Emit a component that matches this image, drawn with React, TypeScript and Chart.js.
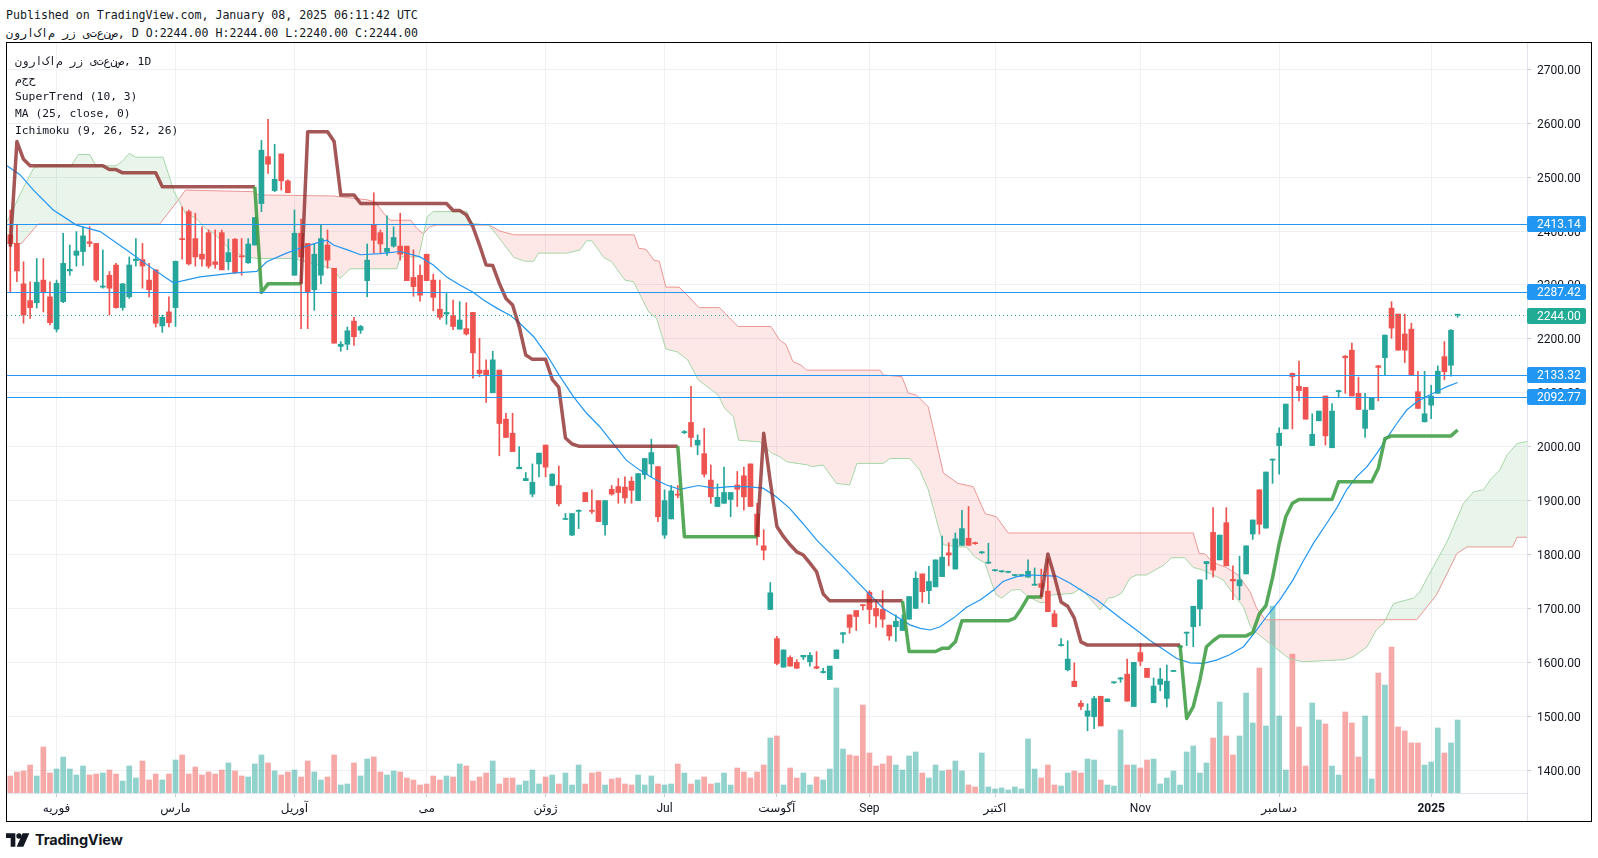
import React, { useEffect, useRef } from "react";
import { Chart, registerables } from "chart.js";
Chart.register(...registerables);

// ---------- DATA ----------
const opens = [
  2393,2377,2302,2271,2267,2309,2278,2218,2269,2326,
  2355,2362,2380,2377,2296,2318,2337,2258,2278,2345,
  2347,2309,2328,2224,2250,2258,2386,2436,2386,2357,
  2397,2343,2397,2343,2385,2354,2341,2374,2451,2538,
  2475,2543,2493,2318,2396,2377,2291,2318,2374,2331,
  2186,2190,2233,2216,2308,2411,2397,2361,2372,2372,
  2372,2314,2318,2357,2309,2255,2246,2243,2218,2219,
  2249,2142,2142,2100,2142,2051,2025,1959,1937,1912,
  1968,2003,1928,1928,1865,1836,1880,1915,1882,1900,
  1855,1921,1926,1925,1936,1900,1948,1968,1963,1836,
  1866,1912,2026,2045,2003,1987,1938,1889,1895,1902,
  1929,1946,1968,1875,1816,1698,1644,1591,1609,1600,
  1610,1601,1592,1581,1568,1607,1652,1688,1696,1707,
  1730,1700,1698,1669,1666,1659,1680,1700,1764,1733,
  1740,1759,1803,1773,1817,1830,1822,1803,1784,1770,
  1768,1767,1761,1761,1758,1743,1746,1732,1690,1631,
  1586,1565,1524,1500,1499,1537,1527,1562,1569,1578,
  1518,1618,1589,1525,1559,1533,1583,1628,1654,1666,
  1699,1783,1841,1790,1859,1754,1742,1764,1838,1920,
  1849,1975,2002,2033,2136,2112,2110,2002,2048,2094,
  1998,2102,2168,2179,2099,2034,2069,2150,2165,2257,
  2246,2209,2218,2102,2046,2077,2099,2167,2151,2244,
];
const highs = [
  2439,2411,2343,2306,2349,2349,2306,2309,2396,2374,
  2399,2408,2408,2377,2365,2325,2340,2303,2352,2386,
  2377,2340,2328,2244,2278,2344,2445,2439,2433,2408,
  2402,2402,2402,2385,2386,2386,2386,2425,2568,2607,
  2561,2543,2495,2439,2422,2377,2377,2412,2402,2331,
  2195,2222,2240,2225,2376,2471,2402,2428,2408,2433,
  2372,2365,2337,2357,2320,2309,2284,2272,2269,2267,
  2249,2201,2161,2177,2142,2062,2062,2000,1952,1968,
  1988,2003,1950,1964,1876,1876,1883,1915,1920,1900,
  1900,1928,1941,1944,1944,1950,1978,2014,1963,1920,
  1928,1928,2030,2112,2022,2034,1966,1931,1962,1915,
  1954,1962,1968,1895,1846,1748,1648,1623,1612,1605,
  1613,1618,1620,1589,1593,1623,1655,1688,1696,1707,
  1733,1716,1733,1669,1688,1688,1722,1768,1764,1778,
  1790,1834,1822,1840,1882,1889,1823,1806,1821,1772,
  1770,1769,1763,1763,1790,1775,1773,1793,1696,1644,
  1640,1599,1529,1523,1537,1537,1532,1564,1572,1606,
  1600,1635,1589,1571,1589,1595,1585,1632,1656,1704,
  1753,1787,1887,1836,1887,1779,1797,1816,1864,1920,
  1953,1977,2035,2079,2137,2159,2110,2061,2066,2094,
  2080,2105,2169,2192,2129,2099,2091,2151,2207,2269,
  2246,2246,2229,2140,2140,2114,2150,2195,2217,2244,
];
const lows = [
  2287,2306,2229,2238,2257,2250,2226,2213,2267,2318,
  2335,2336,2371,2306,2294,2244,2257,2253,2275,2335,
  2294,2278,2222,2212,2222,2223,2348,2337,2335,2335,
  2331,2331,2328,2328,2321,2318,2340,2374,2436,2507,
  2473,2476,2471,2318,2219,2219,2253,2302,2331,2192,
  2177,2180,2188,2210,2278,2359,2359,2355,2370,2346,
  2308,2279,2270,2308,2252,2236,2227,2217,2218,2207,
  2127,2130,2082,2100,1983,2017,1991,1959,1937,1907,
  1944,1944,1927,1890,1865,1835,1848,1898,1876,1861,
  1836,1910,1895,1895,1895,1900,1940,1944,1861,1830,
  1866,1905,2024,2000,1985,1944,1895,1889,1895,1870,
  1889,1882,1889,1818,1790,1698,1595,1591,1593,1589,
  1605,1593,1588,1580,1568,1607,1636,1654,1659,1697,
  1672,1665,1665,1641,1639,1659,1680,1700,1711,1709,
  1740,1759,1779,1773,1817,1817,1819,1802,1783,1769,
  1767,1766,1760,1760,1758,1743,1718,1694,1666,1630,
  1584,1555,1512,1473,1477,1482,1527,1561,1563,1528,
  1518,1594,1572,1525,1547,1517,1583,1627,1631,1629,
  1668,1754,1758,1790,1779,1716,1716,1764,1828,1838,
  1849,1932,1949,2033,2033,2085,2051,2002,2048,2003,
  1998,2091,2099,2094,2069,2017,2069,2085,2133,2201,
  2179,2156,2133,2071,2046,2052,2099,2124,2131,2240,
];
const closes = [
  2377,2326,2244,2258,2305,2287,2230,2303,2340,2329,
  2363,2391,2377,2309,2298,2294,2258,2302,2337,2348,
  2335,2291,2229,2240,2230,2344,2384,2339,2352,2348,
  2335,2338,2328,2360,2323,2352,2376,2425,2550,2524,
  2496,2493,2471,2396,2352,2287,2357,2386,2346,2192,
  2190,2215,2204,2223,2346,2383,2376,2368,2388,2357,
  2308,2297,2281,2308,2277,2240,2249,2223,2235,2209,
  2174,2136,2133,2161,2043,2017,1991,1962,1941,1934,
  1988,1962,1949,1894,1866,1876,1882,1898,1880,1861,
  1900,1912,1915,1905,1919,1950,1978,1989,1870,1900,
  1918,1910,2028,2017,2012,1949,1907,1906,1915,1915,
  1921,1907,1889,1833,1808,1729,1598,1623,1593,1589,
  1613,1613,1589,1583,1593,1623,1655,1665,1685,1705,
  1698,1686,1680,1649,1676,1679,1722,1756,1731,1750,
  1790,1795,1799,1829,1848,1817,1820,1805,1786,1771,
  1769,1768,1762,1762,1769,1745,1739,1694,1666,1633,
  1606,1555,1518,1510,1533,1482,1532,1563,1571,1528,
  1600,1602,1572,1556,1569,1565,1585,1630,1656,1704,
  1753,1787,1771,1836,1779,1751,1753,1816,1864,1856,
  1953,1977,2025,2079,2130,2104,2051,2023,2066,2020,
  2066,2104,2165,2094,2069,2068,2091,2147,2207,2220,
  2179,2179,2133,2071,2061,2094,2140,2139,2216,2244,
];
const volumes = [
  17,21,22,28,17,46,20,24,36,24,
  18,27,18,19,20,23,19,12,27,15,
  32,13,19,13,19,33,38,19,26,18,
  21,19,23,30,22,17,16,29,38,30,
  22,18,21,23,16,32,21,13,16,38,
  8,9,30,17,34,36,21,18,22,21,
  15,13,8,9,17,13,17,16,29,27,
  12,16,20,32,9,15,15,8,12,23,
  9,16,18,9,20,8,28,9,20,21,
  8,14,15,9,8,18,8,17,9,8,
  9,29,20,9,13,16,9,10,20,8,
  25,21,15,21,28,55,57,8,25,15,
  20,8,16,13,24,105,44,38,37,88,
  40,27,29,37,28,23,37,41,20,15,
  28,22,23,32,22,8,6,40,6,4,
  5,3,6,4,54,24,15,28,8,7,
  20,22,20,34,33,13,8,7,63,28,
  28,25,33,34,9,15,22,8,41,47,
  20,30,55,91,57,38,57,100,70,125,
  67,187,77,23,139,66,27,90,73,69,
  27,18,81,70,36,77,14,120,108,146,
  66,62,50,50,28,31,65,40,50,73,
];
const superTrend = [
  2371,2566,2533,2521,2521,2521,2521,2521,2521,2521,
  2521,2521,2521,2521,2521,2514,2514,2508,2508,2508,
  2508,2508,2508,2482,2482,2482,2482,2482,2482,2482,
  2482,2482,2482,2482,2482,2482,2482,2482,2286,2302,
  2302,2302,2302,2302,2302,2584,2584,2584,2584,2566,
  2467,2467,2467,2451,2451,2451,2451,2451,2451,2451,
  2451,2451,2451,2451,2451,2451,2451,2438,2438,2430,
  2408,2374,2337,2336,2303,2275,2263,2223,2170,2162,
  2162,2162,2125,2110,2016,2005,2001,2001,2001,2001,
  2001,2001,2001,2001,2001,2001,2001,2001,2001,2001,
  2001,2001,1833,1833,1833,1833,1833,1833,1833,1833,
  1833,1833,1833,1833,2025,1935,1852,1833,1818,1805,
  1799,1784,1768,1727,1714,1714,1714,1714,1714,1714,
  1714,1714,1714,1714,1714,1714,1620,1620,1620,1620,
  1620,1626,1626,1638,1677,1677,1677,1677,1677,1677,
  1677,1677,1682,1700,1721,1721,1721,1801,1759,1712,
  1704,1682,1638,1632,1632,1632,1632,1632,1632,1632,
  1632,1632,1632,1632,1632,1632,1632,1632,1496,1518,
  1567,1629,1640,1649,1649,1649,1649,1649,1655,1690,
  1705,1757,1820,1870,1895,1902,1902,1902,1902,1902,
  1902,1935,1935,1935,1935,1935,1935,1960,2015,2020,
  2020,2020,2020,2020,2020,2020,2020,2020,2020,2031,
];
// [first bar index, direction] : 1 = up (green), -1 = down (red)
const trendFlips = [[0, 1], [1, -1], [38, 1], [45, -1], [102, 1], [114, -1], [136, 1], [157, -1], [178, 1]];

const maPoints = [
  [-0.5,2521],[1.5,2504],[3.5,2476],[6.5,2439],[10,2411],[13.6,2399],[17.6,2365],[21.1,2334],[23.7,2312],[24.7,2304],
  [28.7,2315],[33.7,2322],[37.3,2325],[38.8,2343],[41.8,2359],[43.8,2368],[46.9,2380],[47.9,2383],[48.9,2374],[51,2365],
  [53,2356],[56,2358],[59,2362],[62,2352],[64,2337],[66,2315],[68,2300],[70.1,2286],[71.6,2272],[73.6,2257],
  [75.6,2244],[77.1,2229],[79.2,2204],[81.2,2170],[83.2,2130],[85.2,2093],[87.2,2062],[89.2,2037],[91.2,2006],[93.2,1975],
  [95.2,1957],[97.3,1941],[99.3,1929],[101.3,1921],[104.1,1928],[106.4,1923],[108.9,1926],[111.4,1926],[113.9,1923],[115.9,1907],
  [117.9,1886],[119.9,1858],[122,1827],[124,1802],[126,1777],[128.1,1750],[130.1,1725],[132.1,1700],[134.1,1685],[136.2,1669],
  [137.7,1663],[139.2,1660],[140.7,1666],[142.7,1682],[144.7,1702],[146.8,1716],[148.8,1734],[150.2,1750],[152.3,1759],[154.3,1762],
  [156.3,1761],[158.3,1760],[160.3,1747],[162.4,1731],[164.4,1716],[166.4,1697],[168.4,1678],[170.4,1660],[172.4,1641],[174.5,1624],
  [176.5,1607],[178.5,1599],[180.5,1598],[182.5,1604],[184.5,1614],[186.6,1629],[188.3,1655],[190.1,1685],[192.1,1716],[194.1,1753],
  [195.6,1787],[197.2,1821],[199.2,1858],[200.7,1886],[202.2,1920],[203.7,1944],[205.3,1963],[206.8,1988],[208.3,2016],[209.8,2043],
  [211.3,2068],[212.8,2083],[214.3,2093],[215.8,2102],[217.3,2111],[219,2119],
];
const spanAPoints = [
  [-0.5,2417],[1.8,2476],[3.5,2516],[4.2,2521],[9.2,2521],[10.3,2542],[12,2542],[13,2521],[16,2521],[17,2530],
  [18,2544],[19,2537],[23.1,2537],[24.8,2473],[26.5,2433],[28.1,2424],[29.5,2405],[30.8,2396],[33.5,2362],[35.8,2352],
  [37.3,2349],[42.8,2349],[48.9,2330],[49.9,2312],[51.4,2330],[58.5,2330],[59,2352],[61.8,2352],[63.1,2427],[64,2436],
  [69.1,2436],[69.8,2414],[72.4,2411],[73.6,2393],[76.2,2351],[77.9,2344],[79.2,2344],[79.9,2359],[84.2,2359],[86.2,2365],
  [87.2,2382],[88,2382],[89.8,2351],[91,2343],[93,2309],[94.3,2306],[96.6,2250],[97.8,2238],[99.2,2181],[100.9,2176],
  [102.5,2161],[104.1,2124],[107.1,2096],[108.1,2071],[109.4,2056],[110.2,2012],[113.4,2009],[115.2,1988],[116.5,1981],[117.5,1972],
  [120.7,1966],[121.3,1963],[123,1966],[125,1932],[127,1929],[128.1,1969],[132.1,1969],[133.1,1978],[136.1,1978],[137.6,1957],
  [138.9,1920],[140.7,1839],[141.2,1818],[143.7,1814],[144.7,1814],[145.9,1796],[147.5,1784],[148.5,1747],[149.2,1725],[150,1719],
  [151.5,1734],[152.8,1735],[154,1722],[155.8,1711],[156.6,1711],[157.6,1725],[160.8,1728],[161.9,1737],[162.9,1725],[164.9,1697],
  [166.1,1719],[167.1,1721],[168.2,1729],[169.4,1756],[170.4,1762],[171.9,1762],[173.2,1771],[174.5,1780],[175.7,1794],[177.7,1794],
  [179,1776],[180.5,1771],[182.5,1759],[183.5,1753],[185,1728],[186.6,1703],[187.6,1668],[188.2,1658],[190.8,1633],[193.5,1607],
  [195.6,1601],[201.9,1605],[203.2,1610],[205.3,1629],[206.7,1660],[207.8,1672],[209.3,1709],[212.3,1719],[213.3,1731],[214.5,1759],
  [217.3,1821],[219.9,1895],[221.4,1916],[222.9,1920],[224.1,1941],[225.4,1957],[226.5,1985],[228,2006],[229.6,2010],
];
const spanBPoints = [
  [-0.5,2377],[1.7,2377],[4.2,2413],[22.6,2413],[25.2,2454],[26.5,2476],[36.8,2473],[37.5,2467],[48.9,2465],[54,2458],
  [55.2,2454],[56.5,2433],[57.5,2420],[60.6,2420],[61.5,2405],[62.5,2395],[63.5,2408],[64.5,2411],[72.5,2411],[74.1,2400],
  [76.2,2393],[94.4,2393],[95.1,2368],[96.2,2366],[97.4,2346],[98.2,2344],[99.2,2296],[101.2,2296],[102.2,2284],[104.2,2258],
  [107.3,2258],[110.1,2223],[115.1,2223],[116.4,2198],[117.4,2189],[118.4,2158],[119.7,2151],[120.5,2142],[131.6,2142],[132.1,2133],
  [134.9,2130],[135.9,2099],[137.1,2096],[138.9,2074],[141.2,1951],[143.4,1932],[145.7,1926],[147.5,1876],[149.2,1870],[151,1840],
  [179,1840],[179.9,1802],[180.8,1801],[182,1785],[184,1776],[185.8,1762],[187.6,1731],[188.6,1700],[189.9,1679],[212.8,1679],
  [215.8,1725],[218.9,1802],[220.4,1814],[227.3,1814],[228,1832],[229.6,1832],
];
const monthTicks = [7, 25, 43, 63, 81, 99, 116, 130, 149, 171, 192, 215];
const monthLabels = ["فوریه", "مارس", "آوریل", "می", "ژوئن", "Jul", "آگوست", "Sep", "اکتبر", "Nov", "دسامبر", "2025"];
const levelLines = [2413.14, 2287.42, 2133.32, 2092.77];
const lastPrice = 2244.0;
const priceTicks = [1400, 1500, 1600, 1700, 1800, 1900, 2000, 2100, 2200, 2300, 2400, 2500, 2600, 2700];
const symbolName = "صنعتی زر ماکارون";
const volumeTitle = "حجم";

// ---------- STYLE ----------
const UP = "#26a69a";
const DN = "#ef5350";
const UP_VOL = "rgba(38,166,154,0.5)";
const DN_VOL = "rgba(239,83,80,0.5)";
const ST_UP = "rgba(67,160,71,0.9)";
const ST_DN = "rgba(140,40,40,0.78)";
const GRID = "#eef0f4";
const AXIS_FONT = "Roboto, 'DejaVu Sans', sans-serif";
const TEXT = "#131722";

// the monospace legend of the source shows Arabic letters unjoined
const unjoined = (s: string) => s.split("").join("\u200C");

function trendAt(i: number) {
  let d = 1;
  for (const [s, v] of trendFlips) if (i >= s) d = v;
  return d;
}

const overlayPlugin = {
  id: "overlayPlugin",
  afterDatasetsDraw(chart: any) {
    const { ctx, chartArea: a, scales } = chart;
    const y = scales.y;
    ctx.save();
    ctx.beginPath();
    ctx.rect(a.left, a.top, a.right - a.left, a.bottom - a.top);
    ctx.clip();
    ctx.lineWidth = 1;
    ctx.strokeStyle = "#2196f3";
    levelLines.forEach((v) => {
      const py = Math.round(y.getPixelForValue(v)) + 0.5;
      ctx.beginPath();
      ctx.moveTo(a.left, py);
      ctx.lineTo(a.right, py);
      ctx.stroke();
    });
    const lp = Math.round(y.getPixelForValue(lastPrice)) + 0.5;
    ctx.setLineDash([1, 3]);
    ctx.strokeStyle = "#22ab94";
    ctx.beginPath();
    ctx.moveTo(a.left, lp);
    ctx.lineTo(a.right, lp);
    ctx.stroke();
    ctx.restore();
  },
  afterDraw(chart: any) {
    const { ctx, chartArea: a, scales, height } = chart;
    const y = scales.y;
    ctx.save();
    ctx.strokeStyle = "#e0e3eb";
    ctx.lineWidth = 1;
    ctx.beginPath();
    ctx.moveTo(a.right + 0.5, a.bottom);
    ctx.lineTo(a.right + 0.5, height);
    ctx.stroke();
    const box = (v: number, color: string) => {
      const py = y.getPixelForValue(v);
      const top = Math.round(py - 7.5);
      ctx.fillStyle = color;
      ctx.beginPath();
      if ((ctx as any).roundRect) (ctx as any).roundRect(a.right, top, 59, 16, 2);
      else ctx.rect(a.right, top, 59, 16);
      ctx.fill();
      ctx.fillStyle = "#ffffff";
      ctx.font = `12px ${AXIS_FONT}`;
      ctx.textBaseline = "middle";
      ctx.textAlign = "left";
      ctx.fillText(v.toFixed(2), a.right + 10, top + 8.5);
    };
    levelLines.forEach((v) => box(v, "#2196f3"));
    box(lastPrice, "#22ab94");
    ctx.restore();
  },
};

export default function App() {
  const ref = useRef<HTMLCanvasElement>(null);

  useEffect(() => {
    const idx = opens.map((_, i) => i);
    const isUp = (i: number) => closes[i] >= opens[i];
    const chart = new Chart(ref.current as HTMLCanvasElement, {
      type: "bar",
      data: {
        datasets: [
          {
            type: "line",
            label: "SuperTrend",
            data: superTrend.map((v, i) => ({ x: i, y: v })),
            borderColor: ST_DN,
            borderWidth: 3.5,
            borderJoinStyle: "round",
            pointRadius: 0,
            segment: { borderColor: (c: any) => (trendAt(c.p1DataIndex) > 0 ? ST_UP : ST_DN) },
            order: 0,
          } as any,
          {
            type: "line",
            label: "MA",
            data: maPoints.map(([x, v]) => ({ x, y: v })),
            borderColor: "#2196f3",
            borderWidth: 1.2,
            pointRadius: 0,
            order: 1,
          } as any,
          {
            type: "bar",
            label: "body",
            data: idx.map((i) => ({ x: i, y: [opens[i], closes[i]] })),
            backgroundColor: idx.map((i) => (isUp(i) ? UP : DN)),
            barThickness: 5,
            minBarLength: 1,
            grouped: false,
            borderWidth: 0,
            order: 2,
          } as any,
          {
            type: "bar",
            label: "wick",
            data: idx.map((i) => ({ x: i, y: [lows[i], highs[i]] })),
            backgroundColor: idx.map((i) => (isUp(i) ? UP : DN)),
            barThickness: 1,
            minBarLength: 1,
            grouped: false,
            borderWidth: 0,
            order: 3,
          } as any,
          {
            type: "line",
            label: "Leading Span A",
            data: spanAPoints.map(([x, v]) => ({ x, y: v })),
            borderColor: "#a5d6a7",
            borderWidth: 1,
            pointRadius: 0,
            fill: { target: "+1", above: "rgba(76,175,80,0.12)", below: "rgba(244,67,54,0.12)" },
            order: 4,
          } as any,
          {
            type: "line",
            label: "Leading Span B",
            data: spanBPoints.map(([x, v]) => ({ x, y: v })),
            borderColor: "#ef9a9a",
            borderWidth: 1,
            pointRadius: 0,
            fill: false,
            order: 5,
          } as any,
          {
            type: "bar",
            label: "Volume",
            yAxisID: "yv",
            data: idx.map((i) => ({ x: i, y: volumes[i] })),
            backgroundColor: idx.map((i) => (isUp(i) ? UP_VOL : DN_VOL)),
            barThickness: 5,
            grouped: false,
            borderWidth: 0,
            order: 6,
          } as any,
        ],
      },
      options: {
        responsive: false,
        maintainAspectRatio: false,
        animation: false,
        devicePixelRatio: 1,
        layout: { padding: 0 },
        plugins: { legend: { display: false }, tooltip: { enabled: false } },
        scales: {
          x: {
            type: "linear",
            min: -0.5,
            max: 229.5,
            offset: false,
            grid: { offset: false, color: GRID, tickLength: 4, tickColor: "#c9ccd3", drawTicks: true },
            border: { display: true, color: "#e0e3eb" },
            afterBuildTicks: (s: any) => {
              s.ticks = monthTicks.map((v) => ({ value: v }));
            },
            afterFit: (s: any) => {
              s.height = 28;
              s.paddingLeft = 0;
              s.paddingRight = 0;
            },
            ticks: {
              autoSkip: false,
              maxRotation: 0,
              padding: 5,
              color: TEXT,
              font: (c: any) => ({
                family: AXIS_FONT,
                size: 12,
                weight: c.tick && c.tick.value === 215 ? "bold" : "normal",
              }),
              callback: (v: any) => {
                const k = monthTicks.indexOf(Number(v));
                return k >= 0 ? monthLabels[k] : "";
              },
            },
          } as any,
          y: {
            type: "linear",
            position: "right",
            min: 1357.6,
            max: 2748.8,
            beginAtZero: false,
            grid: { color: GRID, tickLength: 4, tickColor: "#c9ccd3" },
            border: { display: true, color: "#e0e3eb" },
            afterBuildTicks: (s: any) => {
              s.ticks = priceTicks.map((v) => ({ value: v }));
            },
            afterFit: (s: any) => {
              s.width = 64;
              s.paddingTop = 0;
              s.paddingBottom = 0;
            },
            ticks: {
              padding: 6,
              labelOffset: 1.5,
              color: TEXT,
              font: { family: AXIS_FONT, size: 12 },
              callback: (v: any) => Number(v).toFixed(2),
            },
          } as any,
          yv: {
            type: "linear",
            display: false,
            min: 0,
            max: 750,
            grid: { display: false },
          } as any,
        },
      } as any,
      plugins: [overlayPlugin],
    });
    return () => chart.destroy();
  }, []);

  const mono = "'DejaVu Sans Mono', 'Liberation Mono', monospace";
  const legendLine = (top: number): React.CSSProperties => ({
    position: "absolute",
    left: 15,
    top,
    fontFamily: mono,
    fontSize: 11.3,
    lineHeight: "17px",
    color: TEXT,
    whiteSpace: "pre",
  });

  return (
    <div style={{ position: "absolute", left: 0, top: 0, width: 1598, height: 858, background: "#ffffff", overflow: "hidden" }}>
      <div style={{ position: "absolute", left: 6, top: 7, fontFamily: mono, fontSize: 11.6, lineHeight: "17px", color: TEXT, whiteSpace: "pre" }}>
        Published on TradingView.com, January 08, 2025 06:11:42 UTC
      </div>
      <div style={{ position: "absolute", left: 6, top: 24.5, fontFamily: mono, fontSize: 11.6, lineHeight: "17px", color: TEXT, whiteSpace: "pre" }}>
        <bdi>{unjoined(symbolName)}</bdi>, D O:2244.00 H:2244.00 L:2240.00 C:2244.00
      </div>
      <canvas
        ref={ref}
        width={1584}
        height={778}
        style={{ position: "absolute", left: 7, top: 43, width: 1584, height: 778 }}
      />
      <div
        style={{
          position: "absolute",
          left: 6,
          top: 42,
          width: 1586,
          height: 780,
          boxSizing: "border-box",
          border: "1px solid #000",
          pointerEvents: "none",
        }}
      />
      <div style={legendLine(53)}>
        <bdi>{unjoined(symbolName)}</bdi>, 1D
      </div>
      <div style={legendLine(70.5)}>
        <bdi>{unjoined(volumeTitle)}</bdi>
      </div>
      <div style={legendLine(87.5)}>SuperTrend (10, 3)</div>
      <div style={legendLine(105)}>MA (25, close, 0)</div>
      <div style={legendLine(122)}>Ichimoku (9, 26, 52, 26)</div>
      <div style={{ position: "absolute", left: 6, top: 831, display: "flex", alignItems: "center", gap: 5 }}>
        <svg width="24" height="14" viewBox="0 0 36 20">
          <path d="M0 0h14v20H7V7H0z" fill="#131722" />
          <circle cx="19.5" cy="4" r="4" fill="#131722" />
          <path d="M25 0h10L26 20H16z" fill="#131722" />
        </svg>
        <span style={{ fontFamily: "Inter, Roboto, sans-serif", fontWeight: 700, fontSize: 14.5, color: TEXT, letterSpacing: -0.2 }}>
          TradingView
        </span>
      </div>
    </div>
  );
}
